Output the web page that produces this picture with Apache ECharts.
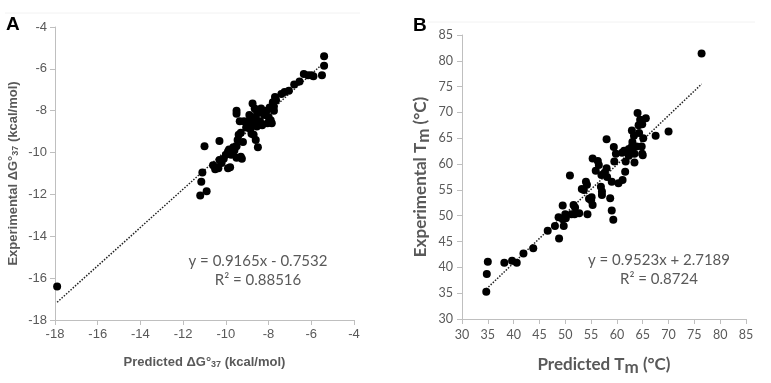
<!DOCTYPE html>
<html><head><meta charset="utf-8">
<script src="https://cdn.jsdelivr.net/npm/echarts@6/dist/echarts.min.js"></script>
<style>html,body{margin:0;padding:0;background:#fff}#c{width:771px;height:383px}</style>
</head><body><div id="c"></div>
<script>
// Panel A: predicted vs experimental ΔG°37 (kcal/mol)
var pointsA = [
[-17.9,-16.4],[-11.2,-12.05],[-10.9,-11.85],[-11.15,-11.4],[-11.1,-10.95],[-11.0,-9.7],
[-10.3,-9.45],[-10.6,-10.6],[-10.4,-10.7],[-10.35,-10.75],[-10.5,-10.8],[-10.2,-10.5],
[-10.3,-10.35],[-10.1,-10.3],[-9.9,-10.75],[-9.8,-10.7],[-10.0,-10.1],[-9.9,-9.95],
[-9.75,-10.1],[-9.65,-9.75],[-9.5,-10.25],[-9.3,-10.2],[-9.25,-10.3],[-9.45,-9.4],
[-9.4,-9.15],[-9.3,-9.05],[-9.5,-9.7],[-9.85,-9.85],[-9.6,-9.9],[-9.2,-9.5],
[-9.05,-8.8],[-9.0,-8.65],[-9.15,-8.5],[-8.95,-8.5],[-8.85,-8.85],[-8.8,-9.1],
[-8.7,-9.15],[-8.6,-9.4],[-8.5,-9.75],[-9.5,-8.0],[-9.5,-8.15],[-9.35,-8.5],
[-8.75,-7.65],[-8.65,-7.9],[-8.8,-8.3],[-8.6,-8.3],[-8.45,-8.1],[-8.4,-8.5],
[-8.3,-8.7],[-8.2,-8.2],[-8.1,-8.0],[-8.0,-8.3],[-7.9,-8.45],[-7.85,-8.6],
[-8.05,-8.6],[-8.55,-8.0],[-8.7,-8.6],[-8.9,-8.2],[-8.55,-8.75],[-8.35,-7.9],
[-7.95,-7.85],[-7.75,-7.8],[-7.8,-7.6],[-7.7,-7.35],[-7.65,-7.5],[-7.75,-8.0],
[-7.4,-7.2],[-7.25,-7.1],[-7.05,-7.05],[-6.8,-6.75],[-6.55,-6.6],[-6.35,-6.25],
[-6.15,-6.3],[-6.0,-6.3],[-5.9,-6.35],[-5.5,-6.3],[-5.4,-5.85],[-5.4,-5.4]
];
var trendA = [[-17.9,-17.15],[-5.4,-5.7]];
var ticksA = {min:-18, max:-4, interval:2};

// Panel B: predicted vs experimental Tm (°C)
var pointsB = [
[76.4,81.4],[70.0,66.3],[67.5,65.5],[64.0,69.9],[65.6,68.9],[64.5,68.6],[64.9,67.7],
[64.2,67.5],[62.9,66.5],[64.3,66.0],[63.3,65.5],[65.1,65.0],[63.0,64.3],[63.8,63.4],
[62.9,63.4],[62.3,62.9],[64.8,63.4],[61.4,62.6],[62.8,62.3],[63.4,62.0],[64.9,62.0],
[65.0,61.7],[63.4,60.3],[61.7,60.5],[61.0,62.2],[62.3,61.6],[58.0,64.8],[59.4,63.3],
[59.8,62.0],[59.5,60.5],[61.6,58.5],[61.1,56.9],[60.3,56.3],[59.0,56.6],[58.0,59.2],
[57.6,58.3],[58.1,57.5],[57.0,57.9],[55.3,61.1],[56.3,60.6],[56.5,59.8],[55.9,58.7],
[56.9,55.6],[50.9,57.8],[54.0,56.6],[54.2,56.0],[53.2,55.2],[53.6,55.0],[55.1,53.6],
[54.6,53.3],[55.0,53.0],[57.1,54.7],[57.1,54.0],[58.7,53.4],[59.0,51.0],[59.3,49.2],
[55.3,52.1],[54.3,50.3],[52.7,50.5],[51.8,50.3],[51.2,50.3],[50.0,50.3],[51.6,52.1],
[51.9,51.6],[49.5,52.0],[48.7,49.7],[50.1,49.5],[49.5,49.3],[49.7,48.0],[48.0,48.0],
[48.8,45.6],[46.6,47.1],[43.8,43.7],[41.9,42.7],[40.6,40.9],[39.7,41.3],[38.2,40.9],
[35.0,41.1],[34.8,38.7],[34.7,35.3]
];
var trendB = [[34.7,35.8],[76.4,75.5]];
var ticksB = {min:30, max:85, interval:5};

var eqA = ['y = 0.9165x - 0.7532', 'R² = 0.88516'];
var eqB = ['y = 0.9523x + 2.7189', 'R² = 0.8724'];

var gray = '#595959', axisGray = '#bfbfbf';
function axis(t, extra){
  return Object.assign({
    type:'value', min:t.min, max:t.max, interval:t.interval,
    splitLine:{show:false},
    axisLine:{show:true, onZero:false, lineStyle:{color:axisGray, width:1}},
    axisTick:{show:true, length:5, lineStyle:{color:axisGray}},
    nameLocation:'middle'
  }, extra);
}
var labA = {color:gray, fontSize:13, fontFamily:'Liberation Sans', margin:8};
var labB = {color:gray, fontSize:12.5, fontFamily:'Lato', margin:9};
var nameStyleA = {color:gray, fontFamily:'Liberation Sans', fontWeight:'bold', fontSize:13,
  rich:{a:{fontFamily:'Liberation Sans', fontWeight:'bold', fontSize:13, color:gray},
        s:{fontFamily:'Liberation Sans', fontWeight:'bold', fontSize:9, color:gray, padding:[4,0,0,0]}}};
var nameStyleB = {color:gray, fontFamily:'Lato', fontWeight:'bold', fontSize:17,
  rich:{a:{fontFamily:'Lato', fontWeight:'bold', fontSize:17, color:gray},
        s:{fontFamily:'Lato', fontWeight:'bold', fontSize:17, color:gray, padding:[5,0,0,0]}}};

var chart = echarts.init(document.getElementById('c'), null, {renderer:'canvas'});
chart.setOption({
  animation:false,
  backgroundColor:'#fff',
  grid:[
    {left:55, top:27, width:299, height:293},
    {left:462, top:35, width:284, height:284}
  ],
  xAxis:[
    axis(ticksA, {gridIndex:0, axisLabel:labA, name:'{a|Predicted ΔG°}{s|37}{a| (kcal/mol)}', nameGap:36, nameTextStyle:nameStyleA}),
    axis(ticksB, {gridIndex:1, axisLabel:labB, name:'{a|Predicted T}{s|m}{a| (°C)}', nameGap:35, nameTextStyle:nameStyleB})
  ],
  yAxis:[
    axis(ticksA, {gridIndex:0, axisLabel:labA, name:'{a|Experimental ΔG°}{s|37}{a| (kcal/mol)}', nameGap:35, nameTextStyle:nameStyleA}),
    axis(ticksB, {gridIndex:1, axisLabel:labB, name:'{a|Experimental T}{s|m}{a| (°C)}', nameGap:30, nameTextStyle:nameStyleB})
  ],
  series:[
    {type:'scatter', xAxisIndex:0, yAxisIndex:0, data:pointsA, symbolSize:8, itemStyle:{color:'#000', opacity:1}, z:3},
    {type:'line', xAxisIndex:0, yAxisIndex:0, data:trendA, symbol:'none', lineStyle:{color:'#222', width:1.5, type:[1.5,1.5]}, z:2},
    {type:'scatter', xAxisIndex:1, yAxisIndex:1, data:pointsB, symbolSize:8, itemStyle:{color:'#000', opacity:1}, z:3},
    {type:'line', xAxisIndex:1, yAxisIndex:1, data:trendB, symbol:'none', lineStyle:{color:'#222', width:1.5, type:[1.5,1.5]}, z:2}
  ],
  graphic:[
    {type:'line', shape:{x1:5,y1:13,x2:360,y2:13}, style:{stroke:'#f2f2f2', lineWidth:1}, silent:true},
    {type:'line', shape:{x1:428,y1:22,x2:755,y2:22}, style:{stroke:'#f2f2f2', lineWidth:1}, silent:true},
    {type:'text', left:6, top:15, style:{text:'A', font:'bold 19px "Liberation Sans"', fill:'#000'}},
    {type:'text', left:413, top:16, style:{text:'B', font:'bold 19px "Liberation Sans"', fill:'#000'}},
    {type:'text', x:258, y:261, style:{text:eqA[0], font:'15px Lato', fill:gray, align:'center', verticalAlign:'middle'}},
    {type:'text', x:258, y:280, style:{text:eqA[1], font:'15px Lato', fill:gray, align:'center', verticalAlign:'middle'}},
    {type:'text', x:659, y:260, style:{text:eqB[0], font:'15px Lato', fill:gray, align:'center', verticalAlign:'middle'}},
    {type:'text', x:659, y:279, style:{text:eqB[1], font:'15px Lato', fill:gray, align:'center', verticalAlign:'middle'}}
  ]
});
</script></body></html>
